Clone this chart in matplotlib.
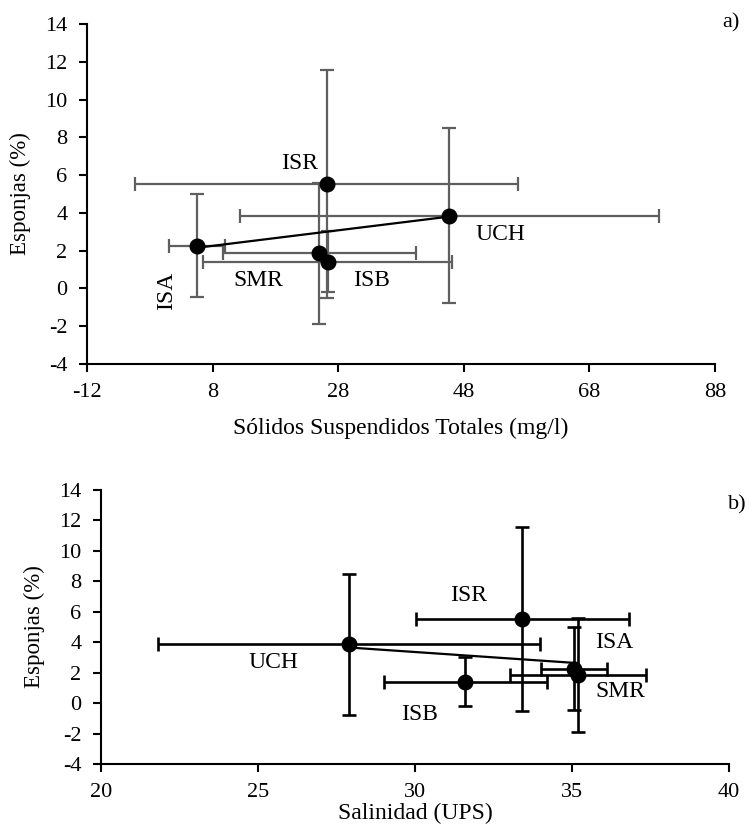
import numpy as np
import matplotlib
matplotlib.use("Agg")
import matplotlib.pyplot as plt

plt.rcParams['font.family'] = ['Liberation Serif', 'DejaVu Serif']
plt.rcParams['font.size'] = 16
plt.rcParams['axes.unicode_minus'] = False

# ---- data ----
sites = ['ISA', 'ISR', 'SMR', 'ISB', 'UCH']
sst = [5.5, 26.2, 25.0, 26.3, 45.7]              # Sólidos suspendidos totales (mg/l)
sst_err = [4.4, 30.5, 15.4, 19.8, 33.3]
esponjas = [2.26, 5.54, 1.87, 1.41, 3.86]        # Esponjas (%)
esponjas_err = [2.73, 6.03, 3.74, 1.62, 4.62]
salinidad = [35.06, 33.41, 35.19, 31.6, 27.9]    # Salinidad (UPS)
salinidad_err = [1.05, 3.39, 2.17, 2.59, 6.09]

xticks_a = [-12, 8, 28, 48, 68, 88]
xticks_b = [20, 25, 30, 35, 40]
yticks = [-4, -2, 0, 2, 4, 6, 8, 10, 12, 14]

# label placement (data coordinates) for the site names
lab_a = {'ISA': (0.7, -0.15, 90), 'ISR': (21.9, 6.64, 0), 'SMR': (15.3, 0.4, 0),
         'ISB': (33.3, 0.4, 0), 'UCH': (53.8, 2.88, 0)}
lab_b = {'ISA': (36.34, 4.01, 0), 'ISR': (31.72, 7.04, 0), 'SMR': (36.53, 0.79, 0),
         'ISB': (30.16, -0.72, 0), 'UCH': (25.48, 2.7, 0)}

fig = plt.figure(figsize=(7.49, 8.30), dpi=100)
ax1 = fig.add_axes([0.1162, 0.5614, 0.8385, 0.4096])
ax2 = fig.add_axes([0.1348, 0.0795, 0.8385, 0.3301])


def panel(ax, x, xerr, y, yerr, ecolor, elw, labels, xticks, xlabel, xlabelpad):
    ax.errorbar(x, y, xerr=xerr, yerr=yerr, fmt='none', ecolor=ecolor,
                elinewidth=elw, capsize=5, capthick=elw, zorder=2)
    # linear trend line
    xa = np.array(x)
    ya = np.array(y)
    m, b = np.polyfit(xa, ya, 1)
    xs = np.array([xa.min(), xa.max()])
    ax.plot(xs, m * xs + b, color='black', lw=1.6, zorder=3)
    ax.plot(x, y, 'o', color='black', ms=10.5, zorder=4)
    for s in sites:
        lx, ly, rot = labels[s]
        ax.text(lx, ly, s, ha='center', va='center', rotation=rot, fontsize=17)
    ax.set_xlim(xticks[0], xticks[-1])
    ax.set_ylim(-4, 14)
    ax.set_xticks(xticks)
    ax.set_yticks(yticks)
    for sp in ['top', 'right']:
        ax.spines[sp].set_visible(False)
    for sp in ['left', 'bottom']:
        ax.spines[sp].set_linewidth(1.5)
    ax.tick_params(direction='out', length=6, width=1.5, pad=8, labelsize=16)
    ax.set_xlabel(xlabel, fontsize=17, labelpad=xlabelpad)
    ax.set_ylabel('Esponjas (%)', fontsize=16.5, labelpad=10)


panel(ax1, sst, sst_err, esponjas, esponjas_err, '#5f5f5f', 1.6, lab_a, xticks_a,
      'Sólidos Suspendidos Totales (mg/l)', 11)
panel(ax2, salinidad, salinidad_err, esponjas, esponjas_err, 'black', 1.9, lab_b, xticks_b,
      'Salinidad (UPS)', 0)

fig.text(0.976, 0.972, 'a)', ha='center', va='center', fontsize=16)
fig.text(0.985, 0.392, 'b)', ha='center', va='center', fontsize=16)

fig.savefig('out.png', dpi=100)
